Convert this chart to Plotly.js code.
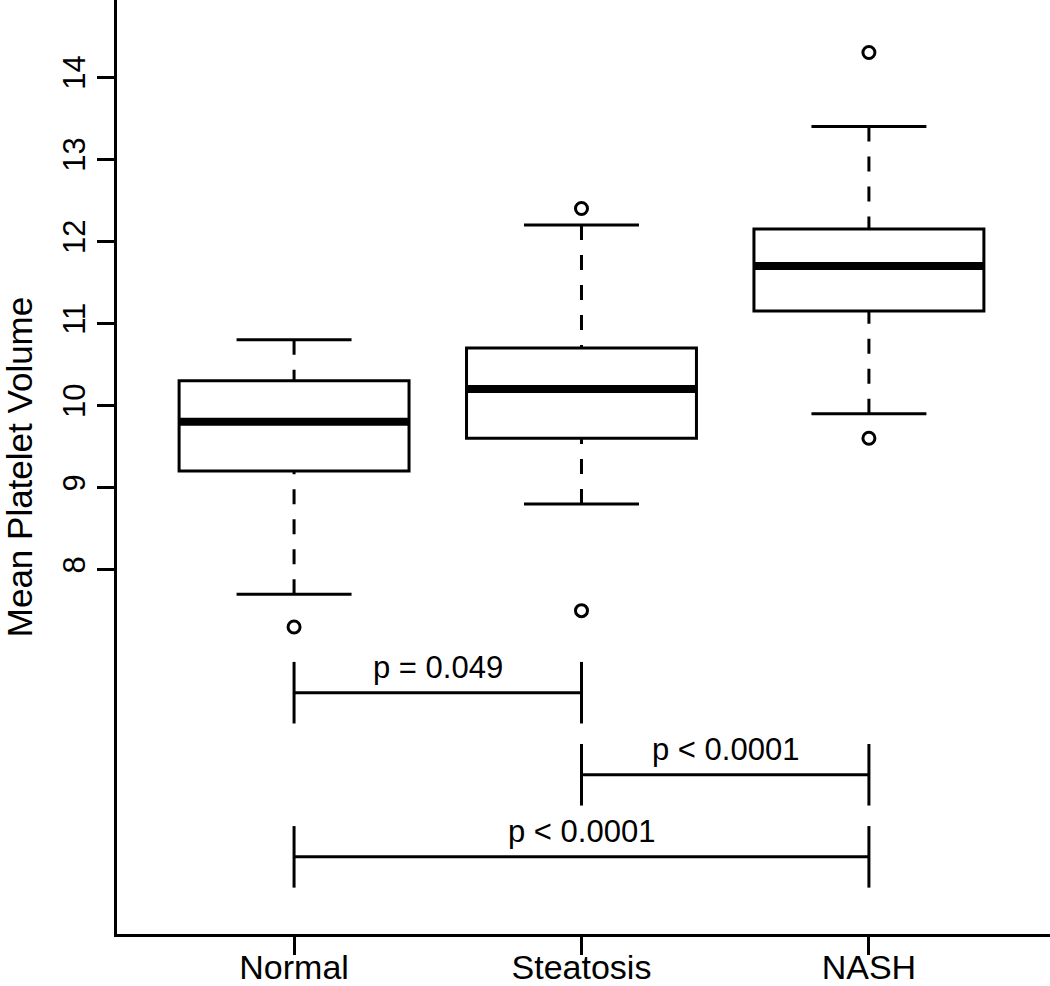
<!DOCTYPE html>
<html>
<head>
<meta charset="utf-8">
<script src="https://cdn.plot.ly/plotly-3.0.1.min.js"></script>
<style>html,body{margin:0;padding:0;background:#fff;}#chart{width:1050px;height:986px;}</style>
</head>
<body>
<div id="chart"></div>
<script>
// ---- data ----
const groups = ["Normal", "Steatosis", "NASH"];
const whiskerLow = [7.7, 8.8, 9.9];
const q1 = [9.2, 9.6, 11.15];
const median = [9.8, 10.2, 11.7];
const q3 = [10.3, 10.7, 12.15];
const whiskerHigh = [10.8, 12.2, 13.4];
const outlierGroup = [0, 1, 1, 2, 2];
const outlierValue = [7.3, 12.4, 7.5, 14.3, 9.6];
const yTicks = [8, 9, 10, 11, 12, 13, 14];
const cmpFrom = [0, 1, 0];
const cmpTo = [1, 2, 2];
const cmpLevel = [6.5, 5.5, 4.5];
const cmpLabel = ["p = 0.049", "p < 0.0001", "p < 0.0001"];

// ---- style ----
const FONT = "Liberation Sans, Arial, Helvetica, sans-serif";
const BOXHALF = 0.4, CAPHALF = 0.2, TICKHALF = 0.375, LABELOFF = 0.31;
const LW = 3;

const shapes = [];
const annotations = [];
groups.forEach((g, i) => {
  // dashed whiskers (start at the cap like R's segments)
  shapes.push({type: "line", xref: "x", yref: "y", x0: i, x1: i, y0: whiskerLow[i], y1: q1[i],
    line: {color: "#000", width: LW, dash: "15px,15px"}});
  shapes.push({type: "line", xref: "x", yref: "y", x0: i, x1: i, y0: whiskerHigh[i], y1: q3[i],
    line: {color: "#000", width: LW, dash: "15px,15px"}});
  // caps
  shapes.push({type: "line", xref: "x", yref: "y", x0: i - CAPHALF, x1: i + CAPHALF, y0: whiskerLow[i], y1: whiskerLow[i],
    line: {color: "#000", width: LW}});
  shapes.push({type: "line", xref: "x", yref: "y", x0: i - CAPHALF, x1: i + CAPHALF, y0: whiskerHigh[i], y1: whiskerHigh[i],
    line: {color: "#000", width: LW}});
  // box
  shapes.push({type: "rect", xref: "x", yref: "y", x0: i - BOXHALF, x1: i + BOXHALF, y0: q1[i], y1: q3[i],
    fillcolor: "#fff", line: {color: "#000", width: LW}});
  // median
  shapes.push({type: "line", xref: "x", yref: "y", x0: i - BOXHALF, x1: i + BOXHALF, y0: median[i], y1: median[i],
    line: {color: "#000", width: 8}});
});

cmpFrom.forEach((a, k) => {
  const b = cmpTo[k], y = cmpLevel[k];
  shapes.push({type: "line", xref: "x", yref: "y", x0: a, x1: b, y0: y, y1: y, line: {color: "#000", width: LW}});
  shapes.push({type: "line", xref: "x", yref: "y", x0: a, x1: a, y0: y - TICKHALF, y1: y + TICKHALF, line: {color: "#000", width: LW}});
  shapes.push({type: "line", xref: "x", yref: "y", x0: b, x1: b, y0: y - TICKHALF, y1: y + TICKHALF, line: {color: "#000", width: LW}});
  annotations.push({xref: "x", yref: "y", x: (a + b) / 2, y: y + LABELOFF, text: cmpLabel[k],
    showarrow: false, font: {family: FONT, size: 31, color: "#000"}, xanchor: "center", yanchor: "middle"});
});

const traces = [{
  type: "scatter", mode: "markers",
  x: outlierGroup, y: outlierValue,
  marker: {symbol: "circle-open", size: 12, color: "#000", line: {width: 3, color: "#000"}},
  hoverinfo: "y", showlegend: false
}];

const layout = {
  width: 1050, height: 986,
  margin: {l: 117, r: 0, t: 0, b: 52},
  paper_bgcolor: "#fff", plot_bgcolor: "#fff",
  font: {family: FONT, color: "#000"},
  showlegend: false,
  xaxis: {
    range: [-0.616, 2.63], tickvals: [0, 1, 2], ticktext: groups,
    showgrid: false, zeroline: false, showline: true, linecolor: "#000", linewidth: LW,
    ticks: "outside", ticklen: 18, tickwidth: LW, tickcolor: "#000", ticklabelstandoff: -17,
    tickfont: {family: FONT, size: 34, color: "#000"}
  },
  yaxis: {
    range: [3.56, 14.94], tickvals: yTicks, ticktext: yTicks.map(String),
    showgrid: false, zeroline: false, showline: true, linecolor: "#000", linewidth: LW,
    ticks: "outside", ticklen: 17, tickwidth: LW, tickcolor: "#000", tickangle: -90,
    tickfont: {family: FONT, size: 31, color: "#000"},
    title: {text: "Mean Platelet Volume", font: {family: FONT, size: 35, color: "#000"}, standoff: 24}
  },
  shapes: shapes,
  annotations: annotations
};

Plotly.newPlot("chart", traces, layout, {displayModeBar: false, staticPlot: true});
</script>
</body>
</html>
